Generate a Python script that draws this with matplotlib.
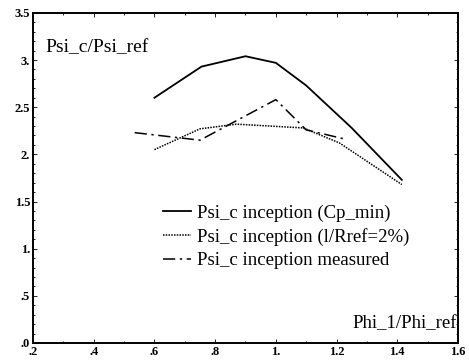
import matplotlib.pyplot as plt
from matplotlib.ticker import MultipleLocator, FixedLocator

# --- Data --------------------------------------------------------------------
# Psi_c inception (Cp_min)
phi_cp = [0.60, 0.755, 0.90, 1.00, 1.10, 1.25, 1.415]
psi_cp = [2.60, 2.93, 3.04, 2.97, 2.73, 2.28, 1.73]
# Psi_c inception (l/Rref=2%)
phi_rr = [0.60, 0.75, 0.87, 1.09, 1.21, 1.415]
psi_rr = [2.05, 2.27, 2.32, 2.28, 2.12, 1.68]
# Psi_c inception measured
phi_ms = [0.535, 0.75, 1.00, 1.10, 1.23]
psi_ms = [2.23, 2.15, 2.58, 2.26, 2.16]

x_ticks = [0.2, 0.4, 0.6, 0.8, 1.0, 1.2, 1.4, 1.6]
x_labels = [".2", ".4", ".6", ".8", "1.", "1.2", "1.4", "1.6"]
y_ticks = [0.0, 0.5, 1.0, 1.5, 2.0, 2.5, 3.0, 3.5]
y_labels = [".0", ".5", "1.", "1.5", "2.", "2.5", "3.", "3.5"]

# --- Plot --------------------------------------------------------------------
plt.rcParams['font.family'] = ['Liberation Serif', 'DejaVu Serif']

fig = plt.figure(figsize=(4.69, 3.62), dpi=100)
ax = fig.add_axes([0.0704, 0.0525, 0.906, 0.912])

ax.plot(phi_cp, psi_cp, '-', color='black', lw=1.3,
        label='Psi_c inception (Cp_min)')
ax.plot(phi_rr, psi_rr, linestyle=(0, (1, 0.8)), color='black', lw=1.1,
        label='Psi_c inception (l/Rref=2%)')
ax.plot(phi_ms, psi_ms, linestyle=(0, (8, 3, 1.5, 3)), color='black', lw=1.1,
        label='Psi_c inception measured')

ax.set_xlim(0.2, 1.6)
ax.set_ylim(0.0, 3.5)
ax.xaxis.set_major_locator(FixedLocator(x_ticks))
ax.set_xticklabels(x_labels, fontweight='bold', fontsize=9)
ax.yaxis.set_major_locator(FixedLocator(y_ticks))
ax.set_yticklabels(y_labels, fontweight='bold', fontsize=9)
ax.xaxis.set_minor_locator(MultipleLocator(0.1))
ax.yaxis.set_minor_locator(MultipleLocator(0.1))
ax.tick_params(which='both', direction='in', top=True, right=True,
               labeltop=False, labelright=False, width=0.6)
ax.tick_params(which='major', length=3, pad=2)
ax.tick_params(which='minor', length=1.5)
for s in ax.spines.values():
    s.set_linewidth(1.4)

ax.text(0.028, 0.896, 'Psi_c/Psi_ref', transform=ax.transAxes, fontsize=14,
        va='center', ha='left')
ax.text(0.998, 0.06, 'Phi_1/Phi_ref', transform=ax.transAxes, fontsize=13.5,
        va='center', ha='right')

ax.legend(loc='upper left', bbox_to_anchor=(0.306, 0.419), frameon=False,
          fontsize=13.5, handlelength=1.5, handletextpad=0.32,
          labelspacing=0.33, borderaxespad=0, borderpad=0)

plt.savefig('out.png', dpi=100)
